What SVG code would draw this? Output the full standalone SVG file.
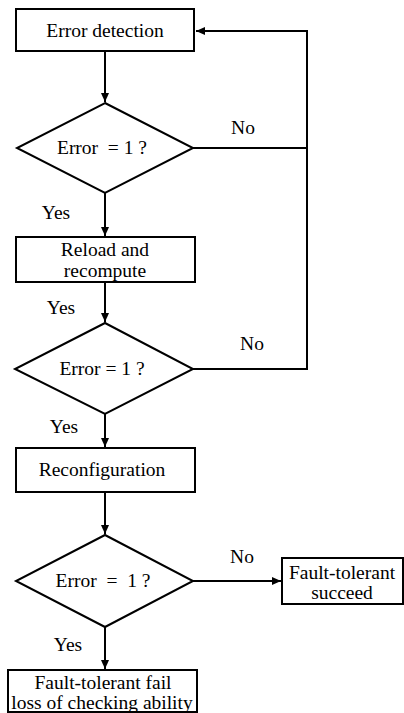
<svg xmlns="http://www.w3.org/2000/svg" width="404" height="713" viewBox="0 0 404 713">
<style>
.box{fill:#fff;stroke:#000;stroke-width:2}
.t{font-size:19.5px;fill:#000;text-anchor:middle}
.c{fill:none;stroke:#000;stroke-width:2}
</style>
<defs>
<marker id="ah" markerWidth="10" markerHeight="10" refX="9" refY="5" orient="auto" markerUnits="userSpaceOnUse">
<path d="M0,1 L9,5 L0,9 Z" fill="#000"/>
</marker>
</defs>
<rect width="404" height="713" fill="#fff"/>
<g font-family="Liberation Serif, DejaVu Serif, serif">
<g id="connectors">
<line class="c" x1="105" y1="52" x2="105" y2="102" marker-end="url(#ah)"/>
<line class="c" x1="105" y1="193" x2="105" y2="236" marker-end="url(#ah)"/>
<polyline class="c" points="193,148 307,148"/>
<polyline class="c" points="307,148 307,31 196,31" marker-end="url(#ah)"/>
<line class="c" x1="105" y1="282" x2="105" y2="322" marker-end="url(#ah)"/>
<polyline class="c" points="193,369 307,369 307,148"/>
<line class="c" x1="105" y1="414" x2="105" y2="447" marker-end="url(#ah)"/>
<line class="c" x1="105" y1="492" x2="105" y2="534" marker-end="url(#ah)"/>
<line class="c" x1="193" y1="581" x2="281" y2="581" marker-end="url(#ah)"/>
<line class="c" x1="105" y1="627" x2="105" y2="669" marker-end="url(#ah)"/>
<text class="t" x="243" y="134">No</text>
<text class="t" x="56" y="219">Yes</text>
<text class="t" x="61" y="314">Yes</text>
<text class="t" x="252" y="350">No</text>
<text class="t" x="64" y="433">Yes</text>
<text class="t" x="242" y="563">No</text>
<text class="t" x="68" y="651">Yes</text>
</g>
<g id="n1"><rect class="box" x="16" y="9" width="178" height="42"/><text class="t" x="105" y="37">Error detection</text></g>
<g id="d1"><polygon class="box" points="105,103 193,148 105,193 17,148"/><text class="t" x="102" y="154" xml:space="preserve">Error  = 1 ?</text></g>
<g id="n2"><rect class="box" x="16" y="237" width="179" height="45"/><text class="t" x="105" y="256">Reload and</text><text class="t" x="105" y="277">recompute</text></g>
<g id="d2"><polygon class="box" points="105,323 193,369 105,414 15,369"/><text class="t" x="102" y="375">Error = 1 ?</text></g>
<g id="n3"><rect class="box" x="16" y="448" width="179" height="44"/><text class="t" x="102" y="476">Reconfiguration</text></g>
<g id="d3"><polygon class="box" points="105,535 193,581 105,627 16,581"/><text class="t" x="103" y="587" xml:space="preserve">Error  =  1 ?</text></g>
<g id="n4"><rect class="box" x="282" y="558" width="121" height="46"/><text class="t" x="342" y="579">Fault-tolerant</text><text class="t" x="342" y="599">succeed</text></g>
<g id="n5"><rect class="box" x="8" y="670" width="189" height="42"/><text class="t" x="103" y="689">Fault-tolerant fail</text><text class="t" x="102" y="709">loss of checking ability</text></g>
</g>
</svg>
